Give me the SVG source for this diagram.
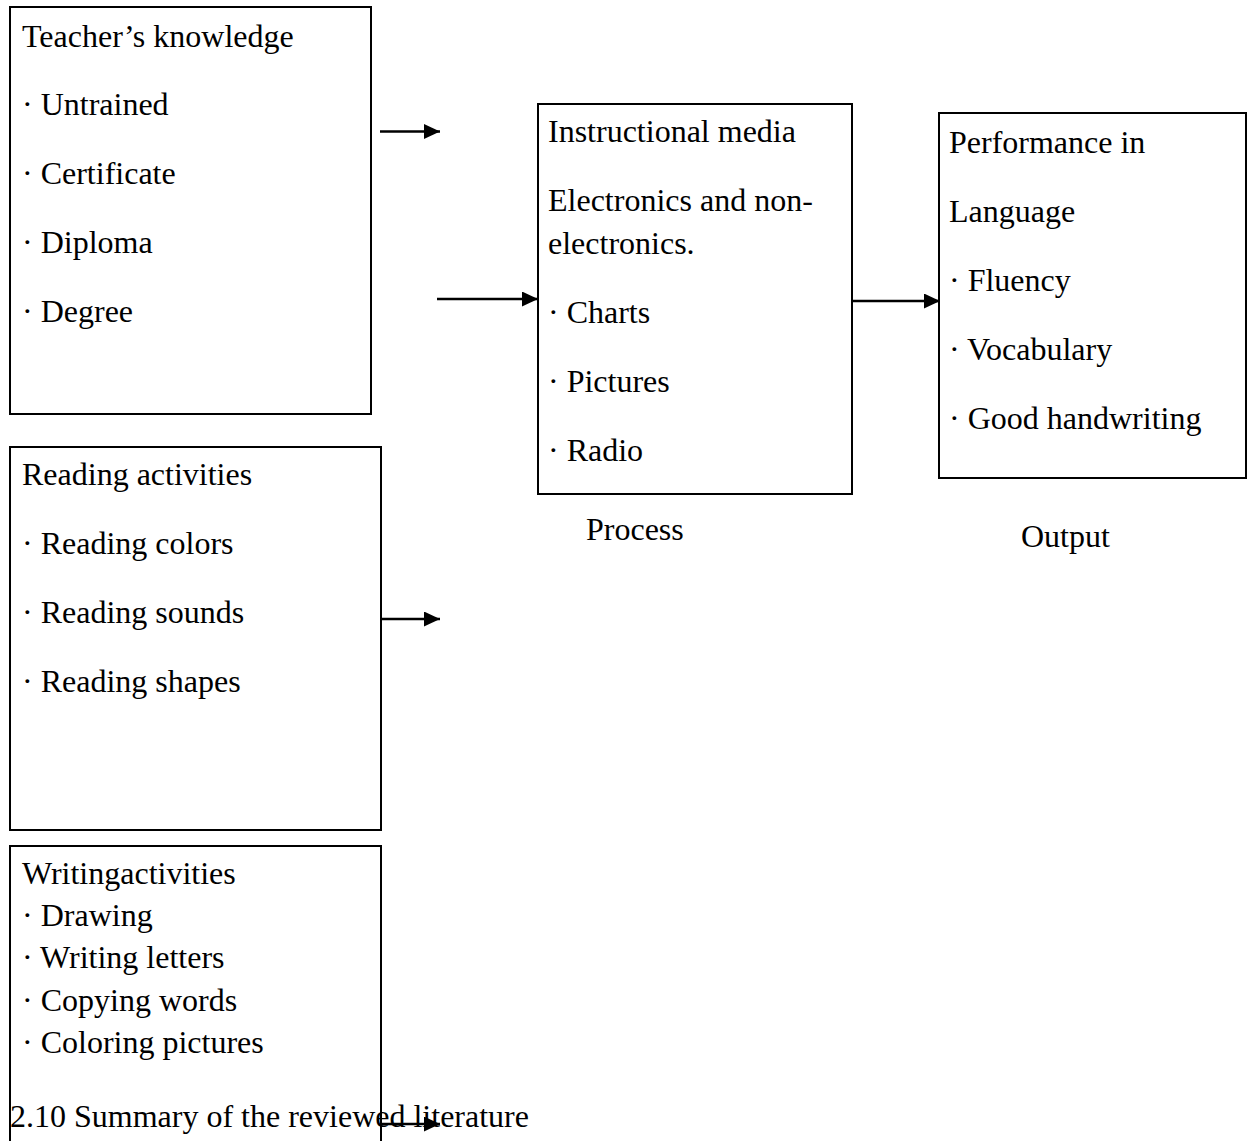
<svg xmlns="http://www.w3.org/2000/svg" width="1251" height="1141" viewBox="0 0 1251 1141">
<style>
.box{fill:#fff;stroke:#000;stroke-width:2}
text{font-family:"Liberation Serif","Times New Roman",serif;font-size:32px;fill:#000}
.c{stroke:#000;stroke-width:2.5;fill:none}
</style>
<defs>
<marker id="ah" viewBox="0 0 16 15" refX="16" refY="7.5" markerWidth="16" markerHeight="15" markerUnits="userSpaceOnUse" orient="auto">
<path d="M0,0 L16,7.5 L0,15 z" fill="#000"/>
</marker>
</defs>
<rect width="1251" height="1141" fill="#fff"/>
<g id="teacher">
<rect class="box" x="10" y="7" width="361" height="407"/>
<text x="22" y="47">Teacher’s knowledge</text>
<text x="22" y="115">· Untrained</text>
<text x="22" y="184">· Certificate</text>
<text x="22" y="253">· Diploma</text>
<text x="22" y="322">· Degree</text>
</g>
<g id="media">
<rect class="box" x="538" y="104" width="314" height="390"/>
<text x="548" y="142">Instructional media</text>
<text x="548" y="211">Electronics and non-</text>
<text x="548" y="254">electronics.</text>
<text x="548" y="323">· Charts</text>
<text x="548" y="392">· Pictures</text>
<text x="548" y="461">· Radio</text>
</g>
<g id="output">
<rect class="box" x="939" y="113" width="307" height="365"/>
<text x="949" y="153">Performance in</text>
<text x="949" y="222">Language</text>
<text x="949" y="291">· Fluency</text>
<text x="949" y="360">· Vocabulary</text>
<text x="949" y="429">· Good handwriting</text>
</g>
<g id="reading">
<rect class="box" x="10" y="447" width="371" height="383"/>
<text x="22" y="485">Reading activities</text>
<text x="22" y="554">· Reading colors</text>
<text x="22" y="623">· Reading sounds</text>
<text x="22" y="692">· Reading shapes</text>
</g>
<g id="writing">
<rect class="box" x="10" y="846" width="371" height="300"/>
<text x="22" y="884">Writingactivities</text>
<text x="22" y="926">· Drawing</text>
<text x="22" y="968">· Writing letters</text>
<text x="22" y="1011">· Copying words</text>
<text x="22" y="1053">· Coloring pictures</text>
</g>
<g id="labels">
<text x="586" y="540">Process</text>
<text x="1021" y="547">Output</text>
<text x="10" y="1127">2.10 Summary of the reviewed literature</text>
</g>
<g id="connectors">
<line class="c" x1="380" y1="131.5" x2="440" y2="131.5" marker-end="url(#ah)"/>
<line class="c" x1="437" y1="299" x2="538" y2="299" marker-end="url(#ah)"/>
<line class="c" x1="852" y1="301" x2="940" y2="301" marker-end="url(#ah)"/>
<line class="c" x1="381" y1="619" x2="440" y2="619" marker-end="url(#ah)"/>
<line class="c" x1="381" y1="1124" x2="440" y2="1124" marker-end="url(#ah)"/>
</g>
</svg>
